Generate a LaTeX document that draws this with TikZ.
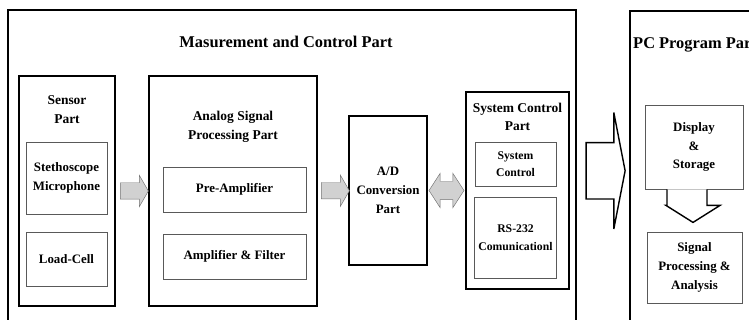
\documentclass[tikz,border=0pt]{standalone}
\usepackage{fontspec}
\setmainfont{Liberation Serif}
\usetikzlibrary{shapes.arrows,calc}

\tikzset{
  partbox/.style={draw, line width=1.5pt, align=center,
    font=\fontsize{11}{16}\selectfont\bfseries},
  unitbox/.style={draw=black!65, line width=0.7pt, align=center,
    font=\fontsize{11}{16}\selectfont\bfseries},
  headtext/.style={align=center, font=\fontsize{11.5}{16}\selectfont\bfseries},
  titletext/.style={font=\fontsize{14}{17}\selectfont\bfseries},
  smalltext/.style={font=\fontsize{10}{15}\selectfont\bfseries},
  dataarrow/.style={single arrow, draw=black!55, fill=black!18,
    inner xsep=0pt, inner ysep=2.4mm, minimum height=8.4mm,
    single arrow head extend=2.25mm, single arrow tip angle=120},
  linkarrow/.style={double arrow, draw=black!55, fill=black!18,
    inner xsep=0pt, inner ysep=2.7mm, minimum height=10.5mm,
    double arrow head extend=2.4mm, double arrow tip angle=114},
  hollowarrow/.style={draw, line width=1.2pt, fill=white}
}

\begin{document}
\begin{tikzpicture}[x=0.3mm,y=-0.3mm]

\useasboundingbox (0,0) rectangle (749,320);
\clip (0,0) rectangle (749,320);

% Measurement and control side
\node[partbox, anchor=north west, minimum width=170.4mm, minimum height=96.15mm] (mcp) at (7,9.5) {};
\node[titletext] (mcptitle) at (286,42) {Masurement and Control Part};

% Sensor part
\node[partbox, minimum width=28.8mm, minimum height=69mm] (sensor) at (67,191) {};
\node[headtext] (sensorhead) at (67,109.5) {Sensor\\Part};
\node[unitbox, minimum width=24.3mm, minimum height=21.6mm] (steth) at (66.5,178) {Stethoscope\\Microphone};
\node[unitbox, minimum width=24.3mm, minimum height=16.2mm] (load) at (66.5,259) {Load-Cell};

% Analog signal processing
\node[partbox, minimum width=50.4mm, minimum height=69mm] (analog) at (233,191) {};
\node[headtext] (analoghead) at (233,126.5) {Analog Signal\\Processing Part};
\node[unitbox, minimum width=42.9mm, minimum height=13.5mm] (preamp) at (234.5,189.5) {Pre-Amplifier};
\node[unitbox, minimum width=42.9mm, minimum height=13.5mm] (ampfilt) at (234.5,256.5) {Amplifier \& Filter};

% A/D conversion
\node[partbox, minimum width=23.4mm, minimum height=44.7mm] (adc) at (388,190.5) {A/D\\Conversion\\Part};

% System control
\node[partbox, minimum width=30.9mm, minimum height=59.1mm] (sysctl) at (517.5,190.5) {};
\node[headtext] (sysctlhead) at (517.5,117) {System Control\\Part};
\node[unitbox, smalltext, minimum width=24.3mm, minimum height=13.2mm] (control) at (515.5,164) {System\\Control};
\node[unitbox, smalltext, minimum width=24.3mm, minimum height=24.3mm] (rs232) at (515.5,237.5) {RS-232\\Comunicationl};

% Signal flow inside
\node[dataarrow] (s2a) at ($(sensor.east)!0.5!(analog.west)$) {};
\node[dataarrow] (a2d) at ($(analog.east)!0.5!(adc.west)$) {};
\node[linkarrow] (d2s) at ($(adc.east)!0.5!(sysctl.west)$) {};

% PC program side
\node[partbox, anchor=north west, minimum width=39mm, minimum height=96mm] (pc) at (629,10) {};
\node[titletext, anchor=west, inner sep=0pt] (pctitle) at (633,45) {PC Program Part};
\node[unitbox, minimum width=29.4mm, minimum height=25.2mm] (display) at (694,147) {Display\\\&\\Storage};
\node[unitbox, minimum width=28.5mm, minimum height=21.3mm] (sigproc) at (694.5,267.5) {Signal\\Processing \&\\Analysis};

% Link to the PC
\node[single arrow, hollowarrow, inner xsep=0pt, inner ysep=8.25mm, minimum height=11.7mm,
  single arrow head extend=9mm, single arrow tip angle=158] (link) at ($(mcp.east)!0.5!(pc.west)$) {};

% Display down to processing
\begin{scope}[shift={(display.south)}]
\draw[hollowarrow] (-27,0) -- (-27,16) -- (-28,16) -- (-1,33) -- (26,16) -- (13,16) -- (13,0);
\end{scope}

\end{tikzpicture}
\end{document}
